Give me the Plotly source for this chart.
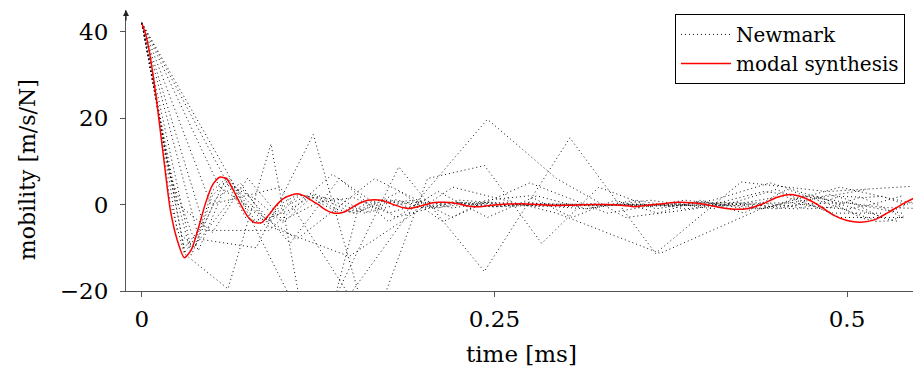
import plotly.graph_objects as go

# ---------------- data ----------------
red_t = [0.0, 0.0025, 0.005, 0.010, 0.015, 0.020, 0.025, 0.030, 0.035, 0.040, 0.045,
         0.050, 0.055, 0.060, 0.065, 0.070, 0.075, 0.080, 0.085, 0.090, 0.095,
         0.100, 0.105, 0.110, 0.115, 0.120, 0.125, 0.130, 0.135, 0.140, 0.145,
         0.150, 0.155, 0.160, 0.165, 0.170, 0.175, 0.180, 0.185, 0.190, 0.195,
         0.200, 0.205, 0.210, 0.215, 0.220, 0.225, 0.230, 0.235, 0.240, 0.245,
         0.250, 0.260, 0.270, 0.280, 0.290, 0.300, 0.310, 0.320, 0.330, 0.340,
         0.350, 0.360, 0.370, 0.380, 0.390, 0.400, 0.410, 0.420, 0.430, 0.440,
         0.450, 0.460, 0.470, 0.480, 0.490, 0.500, 0.510, 0.520, 0.530, 0.540, 0.547]
red_v = [41.8, 39.5, 35.8, 25.0, 11.8, -1.0, -8.2, -12.3, -10.5, -5.5, 0.2,
         4.5, 6.3, 6.0, 3.2, 0.0, -2.8, -4.2, -4.2, -2.4, -0.3,
         1.3, 2.1, 2.5, 2.0, 1.0, 0.0, -1.2, -1.9, -2.0, -1.5,
         -0.5, 0.4, 1.0, 1.1, 1.0, 0.4, -0.2, -0.7, -0.9, -0.6,
         -0.1, 0.3, 0.5, 0.5, 0.4, 0.1, -0.3, -0.5, -0.5, -0.3,
         -0.1, 0.1, 0.2, 0.0, -0.2, -0.2, -0.1, 0.0, 0.0, -0.2,
         -0.5, -0.1, 0.2, 0.5, 0.4, 0.0, -0.7, -1.1, -0.9, 0.1,
         1.6, 2.3, 1.5, -0.2, -2.4, -3.7, -4.1, -3.5, -1.7, 0.2, 1.4]

nm_dt = [0.01, 0.0125, 0.015, 0.0175, 0.02, 0.025, 0.0305, 0.035, 0.0405,
         0.045, 0.049, 0.055, 0.0607, 0.0735]

nm_v01 = [41.8, 25.6, 0.5, -11.3, -6.6, 3.2, 6.1, 1.3, -3.6, -3.3, 0.4, 2.2, 1.7, -0.3,
          -1.9, -1.4, 0.4, 1.1, 0.4, -0.7, -0.7, 0.2, 0.5, 0.2, -0.4, -0.4, -0.1, 0.1,
          0.2, 0.0, -0.2, -0.2, -0.1, 0.0, 0.0, -0.2, -0.5, -0.1, 0.2, 0.5, 0.4, 0.1,
          -0.6, -1.0, -1.0, -0.2, 1.1, 2.0, 1.8, 0.5, -1.4, -3.1, -3.9, -3.8, -2.7]
nm_v02 = [41.8, 20.2, -6.2, -9.9, 2.1, 6.1, -0.4, -4.2, -0.6, 2.2, 1.4, -1.1, -1.9, 0.1,
          1.1, 0.2, -0.9, -0.1, 0.5, 0.2, -0.5, -0.2, 0.1, 0.2, -0.1, -0.2, -0.1, 0.0,
          0.0, -0.3, -0.4, 0.1, 0.4, 0.4, -0.1, -0.8, -1.0, -0.3, 1.3, 2.3, 1.2, -1.0,
          -3.1, -4.0]
nm_v03 = [41.8, 15.1, -10.1, -4.0, 6.3, 0.8, -4.2, 0.1, 2.5, 0.2, -2.0, -0.3, 1.1, -0.1,
          -0.8, 0.4, 0.4, -0.5, -0.2, 0.1, 0.1, -0.2, -0.2, 0.0, 0.0, -0.3, -0.2, 0.3,
          0.5, 0.0, -0.8, -1.0, 0.2, 1.9, 1.7, -0.6, -3.1]
nm_v04 = [41.8, 10.5, -11.7, 1.5, 4.9, -3.5, -1.2, 2.4, 0.2, -2.0, 0.4, 1.0, -0.7, 0.0,
          0.5, -0.4, -0.2, 0.1, 0.0, -0.2, -0.1, 0.0, -0.2, -0.3, 0.3, 0.4, -0.2, -1.0,
          -0.6, 1.5, 1.9, -0.2]
nm_v05 = [41.8, 6.8, -10.7, 4.8, 1.4, -4.2, 1.6, 1.3, -1.9, -0.1, 1.0, -0.8, 0.2, 0.4,
          -0.5, 0.0, 0.2, -0.2, -0.2, 0.0, -0.2, -0.3, 0.3, 0.4, -0.5, -1.1, 0.2, 2.1]
nm_v06 = [41.8, 0.2, -6.4, 6.1, -3.7, 0.5, 1.6, -2.0, 0.5, 0.3, -0.6, 0.5, -0.5, 0.0,
          0.1, -0.2, -0.1, 0.0, -0.5, 0.2, 0.4, -0.7, -0.9]
nm_v07 = [42, -11.5, -19.5, 14, -40, -2, 3, -4, 1, 2, -3, 1, -2, 1, -2, 3.5, 0, -3.5, 1]
nm_v08 = [42, -10.5, 4, -9, 6, -4, 3, -3, 2, -1, 1, -1, 0, 2, -2, -2]
nm_v09 = [42, -8, -10, 16.2, -30, 6, 9, -9, 4, -1, 1, 5, 1, -3]
nm_v10 = [42, -6, -6, 7, -3, 1, 0, -1, 1, -1, 3.5, -3, -3]
nm_v11 = [42, 0, 4, -21, 1, 19.7, 6, -3, -1, 3, 1, -2]
nm_v12 = [42, 4, -8, 6, -3, 5, -2, 1, -1, 4, 0]
nm_v13 = [42, 7.3, -32, 8.7, -15.5, 15.4, -11.3, 5.2, 3.0, 4.2]
nm_v14 = [42, -3, -12, 4, -2, -11.3, -0.7, 3.5]

x_ticks = [0, 0.25, 0.5]
x_ticktext = ["0", "0.25", "0.5"]
y_ticks = [-20, 0, 20, 40]
y_ticktext = ["\u221220", "0", "20", "40"]

x_title = "time [ms]"
y_title = "mobility [m/s/N]"
legend_names = ["Newmark", "modal synthesis"]

nm_values = [nm_v01, nm_v02, nm_v03, nm_v04, nm_v05, nm_v06, nm_v07,
             nm_v08, nm_v09, nm_v10, nm_v11, nm_v12, nm_v13, nm_v14]

FONT = "DejaVu Serif"
fig = go.Figure()

for i, (dt, vals) in enumerate(zip(nm_dt, nm_values)):
    ts = [n * dt for n in range(len(vals))]
    fig.add_trace(go.Scatter(
        x=ts, y=vals, mode="lines",
        line=dict(color="#111111", width=1.0, dash="1px,3px"),
        name=legend_names[0], legendgroup="nm", showlegend=(i == 0),
    ))

fig.add_trace(go.Scatter(
    x=red_t, y=red_v, mode="lines",
    line=dict(color="rgb(255,0,0)", width=1.5, shape="spline", smoothing=0.6),
    name=legend_names[1],
))

axis_col = "#555555"
fig.update_layout(
    width=913, height=376, autosize=False,
    margin=dict(l=126, r=0, t=10, b=85),
    paper_bgcolor="white", plot_bgcolor="white",
    font=dict(family=FONT, color="black", size=23),
    showlegend=True,
    legend=dict(
        x=0.9898, xanchor="right", y=0.986, yanchor="top",
        bordercolor="black", borderwidth=1, bgcolor="white",
        font=dict(family=FONT, size=20, color="black"),
        tracegroupgap=0, itemwidth=50,
    ),
    xaxis=dict(
        range=[-0.0113, 0.5468], tickvals=x_ticks, ticktext=x_ticktext,
        showline=True, linecolor=axis_col, linewidth=1,
        ticks="outside", ticklen=5, tickcolor=axis_col,
        showgrid=False, zeroline=False,
        tickfont=dict(family=FONT, size=23, color="black"),
        ticklabelstandoff=2,
    ),
    yaxis=dict(
        range=[-20, 44.97], tickvals=y_ticks, ticktext=y_ticktext,
        showline=True, linecolor=axis_col, linewidth=1,
        ticks="outside", ticklen=5, tickcolor=axis_col,
        showgrid=False, zeroline=False,
        tickfont=dict(family=FONT, size=23, color="black"),
        ticklabelstandoff=7,
    ),
    annotations=[
        dict(text=x_title, xref="paper", yref="paper", x=0.503, y=0,
             xanchor="center", yanchor="middle", yshift=-63, showarrow=False,
             font=dict(family=FONT, size=23, color="black")),
        dict(text=y_title, xref="paper", yref="paper", x=-0.126, y=0.433,
             xanchor="center", yanchor="middle", textangle=-90, showarrow=False,
             font=dict(family=FONT, size=22, color="black")),
        dict(text="", xref="paper", yref="paper", x=0, y=1.0, ax=0, ay=12,
             showarrow=True, arrowhead=2, arrowsize=1, arrowwidth=1.2,
             arrowcolor="#222222"),
    ],
)

fig.write_html("out.html")
